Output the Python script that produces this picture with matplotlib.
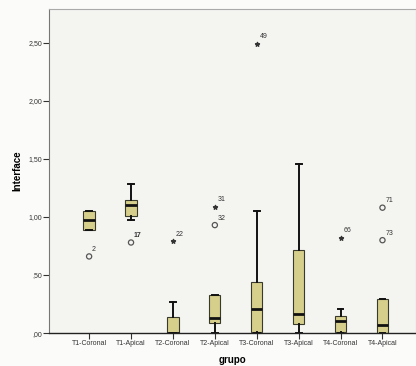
import matplotlib
matplotlib.use('Agg')
import matplotlib.pyplot as plt

# box summary per group
groups = ['T1-Coronal', 'T1-Apical', 'T2-Coronal', 'T2-Apical',
          'T3-Coronal', 'T3-Apical', 'T4-Coronal', 'T4-Apical']
whislo = [0.89, 0.97, 0.00, 0.00, 0.00, 0.00, 0.00, 0.00]
q1 = [0.89, 1.01, 0.00, 0.09, 0.01, 0.08, 0.01, 0.00]
med = [0.97, 1.10, 0.00, 0.13, 0.21, 0.16, 0.10, 0.07]
q3 = [1.05, 1.15, 0.135, 0.325, 0.44, 0.715, 0.15, 0.29]
whishi = [1.05, 1.28, 0.27, 0.325, 1.05, 1.46, 0.21, 0.29]

# outliers: group index (1-based), value, case label
out_grp = [1, 2, 4, 8, 8]
out_val = [0.66, 0.78, 0.93, 1.08, 0.80]
out_lab = ['2', '17', '32', '71', '73']
# extremes (stars)
ext_grp = [3, 4, 5, 7]
ext_val = [0.79, 1.09, 2.49, 0.82]
ext_lab = ['22', '31', '49', '66']

yticks = [0.0, 0.5, 1.0, 1.5, 2.0, 2.5]
yticklabels = [',00', ',50', '1,00', '1,50', '2,00', '2,50']

plt.rcParams['font.family'] = ['Liberation Sans', 'DejaVu Sans']

fig = plt.figure(figsize=(4.16, 3.66), dpi=100, facecolor='#fbfbfa')
ax = fig.add_axes([0.118, 0.090, 0.882, 0.885])
ax.set_facecolor('#f4f4f1')

stats = []
for i, g in enumerate(groups):
    stats.append({'label': g, 'whislo': whislo[i], 'q1': q1[i], 'med': med[i],
                  'q3': q3[i], 'whishi': whishi[i], 'fliers': []})

ax.bxp(stats, positions=range(1, len(groups) + 1), widths=0.27,
       capwidths=0.14, patch_artist=True, showfliers=False,
       boxprops=dict(facecolor='#d6cf8c', edgecolor='#3a3a2a', linewidth=0.8),
       medianprops=dict(color='#111111', linewidth=2.0),
       whiskerprops=dict(color='#111111', linewidth=1.4),
       capprops=dict(color='#111111', linewidth=1.4))

ax.scatter(out_grp, out_val, s=14, facecolors='none', edgecolors='#555555',
           linewidths=0.9, zorder=4)
ax.scatter(ext_grp, ext_val, s=9, marker='*', color='#333333', zorder=4)
for x, y, t in zip(out_grp + ext_grp, out_val + ext_val, out_lab + ext_lab):
    ax.text(x + 0.07, y + 0.03, t, fontsize=5, color='#333333', ha='left',
            va='bottom', fontweight='bold' if t == '17' else 'normal')

ax.set_xlim(0.045, 8.80)
ax.set_ylim(0, 2.79)
ax.set_yticks(yticks)
ax.set_yticklabels(yticklabels, fontsize=5, color='#333333')
ax.set_xticks(range(1, len(groups) + 1))
ax.set_xticklabels(groups, fontsize=5, color='#333333')
ax.tick_params(axis='both', length=4, width=0.8, color='#333333', pad=1)

ax.set_ylabel('Interface', fontsize=7, fontweight='bold', labelpad=4)
ax.set_xlabel('grupo', fontsize=7, fontweight='bold', labelpad=6)

for s in ['top', 'right']:
    ax.spines[s].set_color('#aaaaaa')
ax.spines['left'].set_color('#777777')
ax.spines['bottom'].set_color('#222222')
ax.spines['bottom'].set_linewidth(1.0)

fig.savefig('out.png', dpi=100, facecolor=fig.get_facecolor())
